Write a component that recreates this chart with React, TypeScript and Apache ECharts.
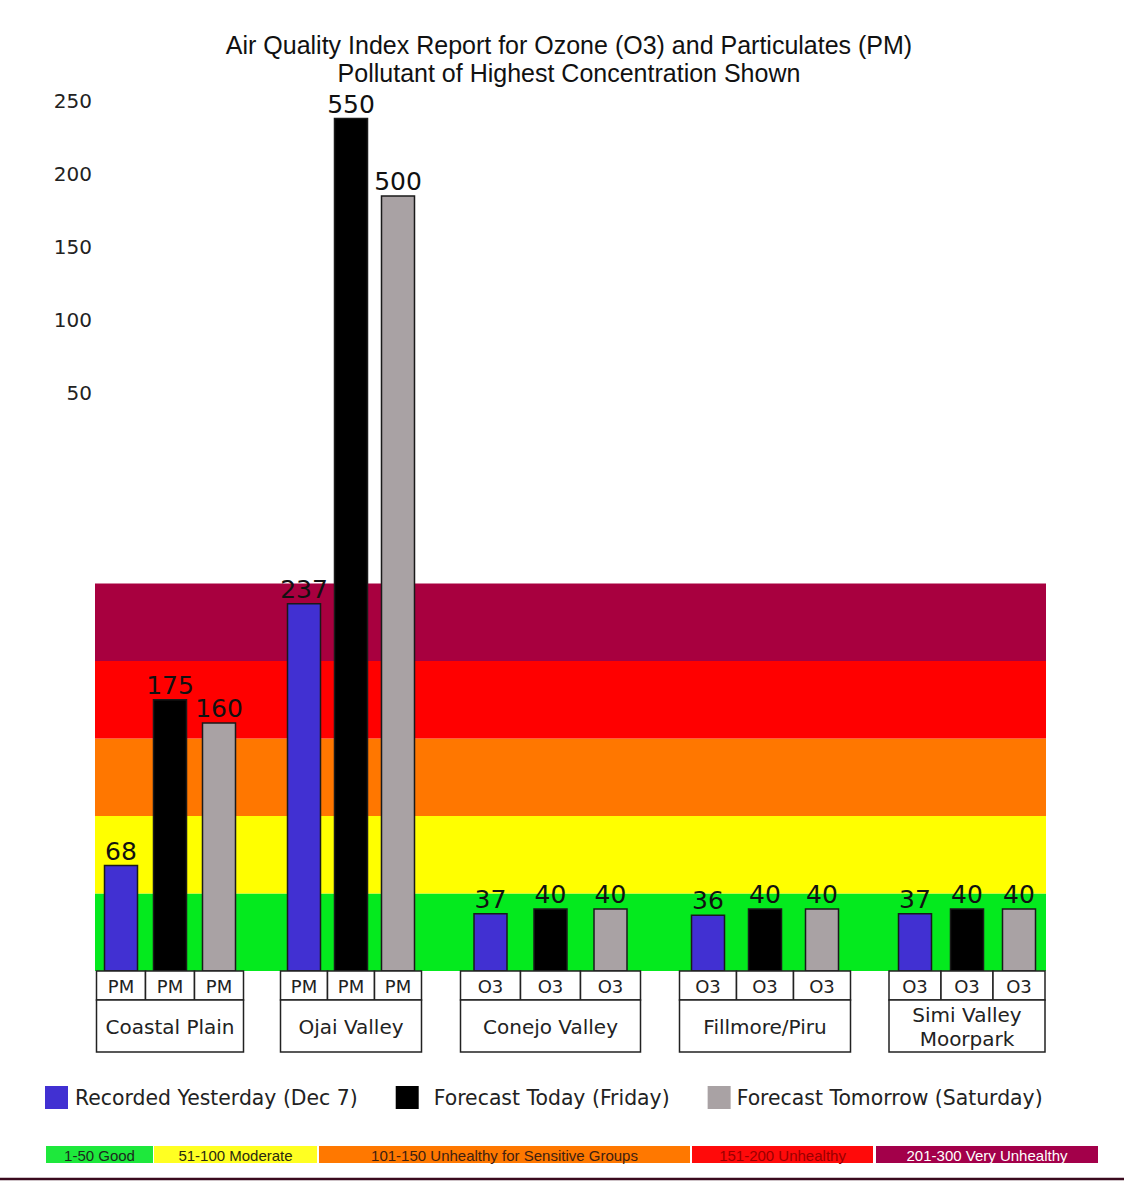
import React, { useEffect, useRef } from "react";
import * as echarts from "echarts";

// ---------- data ----------
const regions = ["Coastal Plain", "Ojai Valley", "Conejo Valley", "Fillmore/Piru", "Simi Valley\nMoorpark"];
const seriesNames = ["Recorded Yesterday (Dec 7)", "Forecast Today (Friday)", "Forecast Tomorrow (Saturday)"];
const recordedYesterday = [68, 237, 37, 36, 37];
const forecastToday = [175, 550, 40, 40, 40];
const forecastTomorrow = [160, 500, 40, 40, 40];
const pollutantYesterday = ["PM", "PM", "O3", "O3", "O3"];
const pollutantToday = ["PM", "PM", "O3", "O3", "O3"];
const pollutantTomorrow = ["PM", "PM", "O3", "O3", "O3"];
const yTickLabels = ["250", "200", "150", "100", "50"];
const aqiBandBounds = [0, 50, 100, 150, 200, 250];
const aqiKeyLabels = [
  "1-50 Good",
  "51-100 Moderate",
  "101-150 Unhealthy for Sensitive Groups",
  "151-200 Unhealthy",
  "201-300 Very Unhealthy",
];

// ---------- styles / layout ----------
const seriesValues = [recordedYesterday, forecastToday, forecastTomorrow];
const seriesPollutants = [pollutantYesterday, pollutantToday, pollutantTomorrow];
const seriesColors = ["#4130d2", "#000000", "#a9a2a4"];
const bandColors = ["#04ea1e", "#ffff00", "#ff7700", "#ff0000", "#a8003f"];
const keyColors = ["#1ee83c", "#ffff22", "#ff7800", "#ff0a0a", "#a3004a"];
const keyTextColors = ["#1c2a1c", "#2a2a10", "#402010", "#9a0000", "#ffffff"];
const keyEdges = [[46, 153], [154, 317], [319, 690], [692, 873], [876, 1098]];
const legendTextPadding = [[12, 2, 0, 2], [12, 0, 0, 10], [12, 0, 0, 1]];
// group centres and slot widths along the (pixel-scaled) x track
const regionCenter = [75, 256, 455.5, 670, 872];
const slotWidth = [49, 47, 60, 57, 52];
const BAR_W = 33;
const FONT = "DejaVu Sans";

export default function App() {
  const ref = useRef<HTMLDivElement>(null);

  useEffect(() => {
    if (!ref.current) return;
    const chart = echarts.init(ref.current, undefined, { renderer: "svg" });

    const barSeries = seriesValues.map((vals, s) => ({
      type: "custom",
      name: seriesNames[s],
      xAxisIndex: 0,
      yAxisIndex: 0,
      clip: false,
      z: 3,
      itemStyle: { color: seriesColors[s] },
      encode: { x: 0, y: 1 },
      data: vals.map((v, i) => [regionCenter[i] + (s - 1) * slotWidth[i], v, i]),
      renderItem: (params: any, api: any) => {
        const x = api.value(0);
        const v = api.value(1);
        const i = api.value(2);
        const base = api.coord([x, 0]);
        const top = api.coord([x, v]);
        const bw = api.size([BAR_W, 0])[0];
        const sw = api.size([slotWidth[i], 0])[0];
        return {
          type: "group",
          children: [
            {
              type: "rect",
              shape: { x: base[0] - bw / 2, y: top[1], width: bw, height: base[1] - top[1] },
              style: { fill: seriesColors[s], stroke: "#1a1a1a", lineWidth: 1.5 },
            },
            {
              type: "text",
              x: base[0],
              y: top[1] - 2,
              style: {
                text: String(v),
                align: "center",
                verticalAlign: "bottom",
                fontSize: 25,
                fontFamily: FONT,
                fill: "#111",
              },
            },
            {
              type: "rect",
              shape: { x: base[0] - sw / 2, y: base[1], width: sw, height: 29 },
              style: { fill: "#ffffff", stroke: "#222", lineWidth: 1.5 },
            },
            {
              type: "text",
              x: base[0],
              y: base[1] + 15.5,
              style: {
                text: seriesPollutants[s][i],
                align: "center",
                verticalAlign: "middle",
                fontSize: 18,
                fontFamily: FONT,
                fill: "#222",
              },
            },
          ],
        };
      },
    }));

    const option: any = {
      animation: false,
      backgroundColor: "#ffffff",
      title: {
        text:
          "Air Quality Index Report for Ozone (O3) and Particulates (PM)\nPollutant of Highest Concentration Shown",
        left: 564,
        textAlign: "center",
        top: 26,
        textStyle: {
          fontSize: 25,
          fontWeight: "normal",
          fontFamily: "Liberation Sans",
          color: "#111",
          lineHeight: 28,
        },
      },
      legend: {
        data: seriesNames.map((n, i) => ({
          name: n,
          textStyle: { padding: legendTextPadding[i] },
        })),
        left: 40,
        top: 1081,
        icon: "rect",
        itemWidth: 23,
        itemHeight: 23,
        itemGap: 38,
        selectedMode: false,
        textStyle: { fontSize: 20.4, fontFamily: FONT, color: "#222" },
      },
      grid: [
        { left: 95, right: 78, top: 103, bottom: 210 },
        { left: 95, width: 10, top: 64.5, height: 365 },
      ],
      xAxis: [
        { type: "value", gridIndex: 0, min: 0, max: 951, show: false },
        { type: "value", gridIndex: 1, min: 0, max: 1, show: false },
      ],
      yAxis: [
        { type: "value", gridIndex: 0, min: 0, max: 560, show: false },
        {
          type: "category",
          gridIndex: 1,
          data: yTickLabels,
          inverse: true,
          axisLine: { show: false },
          axisTick: { show: false },
          splitLine: { show: false },
          axisLabel: { fontSize: 20, fontFamily: FONT, color: "#222", margin: 3 },
        },
      ],
      graphic: [
        ...keyEdges.map((e, i) => ({
          type: "group",
          children: [
            {
              type: "rect",
              shape: { x: e[0], y: 1146, width: e[1] - e[0], height: 17 },
              style: { fill: keyColors[i] },
            },
            {
              type: "text",
              x: (e[0] + e[1]) / 2,
              y: 1155,
              style: {
                text: aqiKeyLabels[i],
                align: "center",
                verticalAlign: "middle",
                fontSize: 15,
                fontFamily: "Liberation Sans",
                fill: keyTextColors[i],
              },
            },
          ],
        })),
        {
          type: "line",
          shape: { x1: 0, y1: 1179, x2: 1124, y2: 1179 },
          style: { stroke: "#3a0a1e", lineWidth: 2.5 },
        },
      ],
      series: [
        {
          type: "custom",
          name: "bands",
          silent: true,
          clip: false,
          z: 1,
          data: bandColors.map((c, i) => [aqiBandBounds[i], aqiBandBounds[i + 1]]),
          renderItem: (params: any, api: any) => {
            const lo = api.coord([0, api.value(0)]);
            const hi = api.coord([0, api.value(1)]);
            return {
              type: "rect",
              shape: {
                x: params.coordSys.x,
                y: hi[1],
                width: params.coordSys.width,
                height: lo[1] - hi[1],
              },
              style: { fill: bandColors[params.dataIndex] },
            };
          },
        },
        ...barSeries,
        {
          type: "custom",
          name: "regions",
          silent: true,
          clip: false,
          z: 3,
          encode: { x: 0, y: 1 },
          data: regions.map((r, i) => [regionCenter[i], 0, i]),
          renderItem: (params: any, api: any) => {
            const i = api.value(2);
            const p = api.coord([api.value(0), 0]);
            const w = api.size([slotWidth[i] * 3, 0])[0];
            return {
              type: "group",
              children: [
                {
                  type: "rect",
                  shape: { x: p[0] - w / 2, y: p[1] + 29, width: w, height: 52 },
                  style: { fill: "#ffffff", stroke: "#222", lineWidth: 1.5 },
                },
                {
                  type: "text",
                  x: p[0],
                  y: p[1] + 56,
                  style: {
                    text: regions[i],
                    align: "center",
                    verticalAlign: "middle",
                    fontSize: 20,
                    lineHeight: 24,
                    fontFamily: FONT,
                    fill: "#222",
                  },
                },
              ],
            };
          },
        },
      ],
    };

    chart.setOption(option);
    return () => chart.dispose();
  }, []);

  return (
    <div
      ref={ref}
      style={{ position: "absolute", left: 0, top: 0, width: 1124, height: 1181, background: "#fff" }}
    />
  );
}
